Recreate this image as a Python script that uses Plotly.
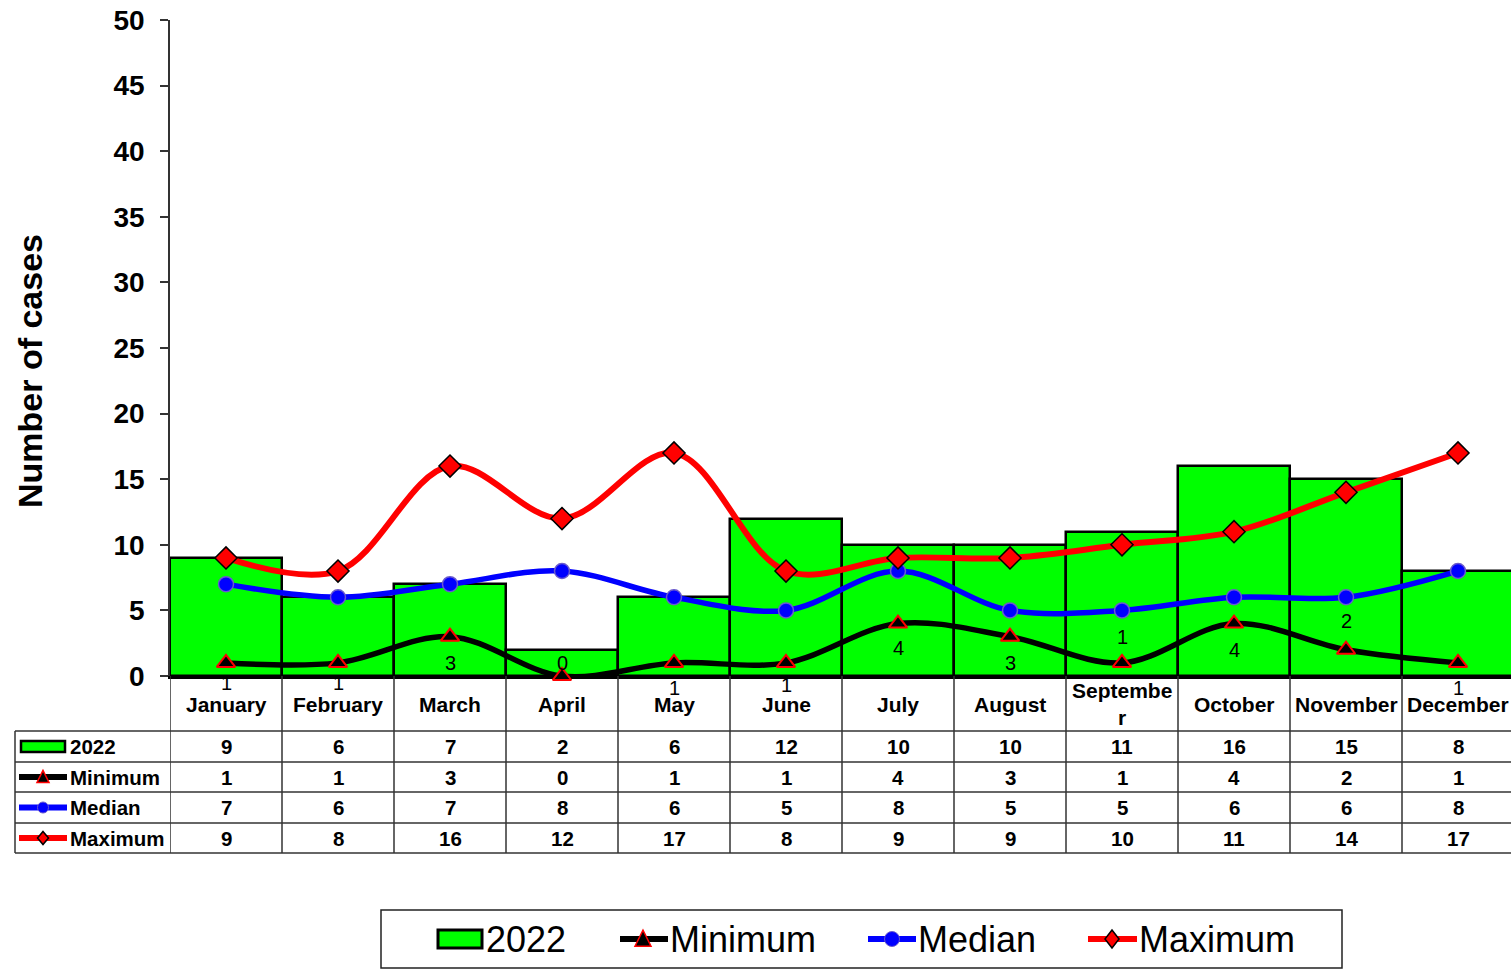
import plotly.graph_objects as go

# ---- data ----
months = ["January", "February", "March", "April", "May", "June",
          "July", "August", "September", "October", "November", "December"]
month_labels = ["January", "February", "March", "April", "May", "June",
                "July", "August", "Septembe<br>r", "October", "November", "December"]
cases_2022 = [9, 6, 7, 2, 6, 12, 10, 10, 11, 16, 15, 8]
minimum = [1, 1, 3, 0, 1, 1, 4, 3, 1, 4, 2, 1]
median = [7, 6, 7, 8, 6, 5, 8, 5, 5, 6, 6, 8]
maximum = [9, 8, 16, 12, 17, 8, 9, 9, 10, 11, 14, 17]
y_ticks = [0, 5, 10, 15, 20, 25, 30, 35, 40, 45, 50]

# vertical offset (px, positive = below the point) of each Minimum value label
min_label_offset = [20, 20, 26, -13, 25, 22, 24, 26, -26, 26, -29, 25]

FONT = "Liberation Sans, Arial, sans-serif"
NARROW = "Liberation Sans Narrow, Arial Narrow, Liberation Sans, Arial, sans-serif"
W, H = 1511, 974
L, R, T, B = 170, 1511, 20, 676          # plot area in pixels
SLOT = 112                                # width of one month column

GREEN = "#00FF00"
BLUE = "#0000FF"
RED = "#FF0000"


def px(x):
    return (x - L) / (R - L)


def py(y):
    return (B - y) / (B - T)


fig = go.Figure()

fig.add_trace(go.Bar(
    x=months, y=cases_2022, name="2022", width=1,
    marker=dict(color=GREEN, line=dict(color="black", width=2.5)),
))
fig.add_trace(go.Scatter(
    x=months, y=minimum, name="Minimum", mode="lines+markers",
    line=dict(color="black", width=5.5, shape="spline", smoothing=1),
    marker=dict(symbol="triangle-up", size=16, color="black",
                line=dict(color=RED, width=2)),
    cliponaxis=False,
))
fig.add_trace(go.Scatter(
    x=months, y=median, name="Median", mode="lines+markers",
    line=dict(color=BLUE, width=5.5, shape="spline", smoothing=1),
    marker=dict(symbol="circle", size=15, color=BLUE,
                line=dict(color="#6a5acd", width=1.5)),
    cliponaxis=False,
))
fig.add_trace(go.Scatter(
    x=months, y=maximum, name="Maximum", mode="lines+markers",
    line=dict(color=RED, width=6, shape="spline", smoothing=1),
    marker=dict(symbol="diamond", size=17, color=RED,
                line=dict(color="black", width=1.5)),
    cliponaxis=False,
))

shapes = []
annotations = []

# Minimum value labels next to their points
for m, v, off in zip(months, minimum, min_label_offset):
    annotations.append(dict(x=m, xref="x", y=v, yref="y", text=str(v),
                            showarrow=False, xanchor="center",
                            yanchor="middle", yshift=-off,
                            font=dict(family=FONT, size=20, color="black")))

# ---- data table grid ----
row_lines = [731, 762, 792, 823, 853]
row_centers = [746.5, 777, 807.5, 838]
GRID = "#333333"
for y in row_lines:
    shapes.append(dict(type="line", xref="paper", yref="paper",
                       x0=px(15), x1=px(1511), y0=py(y), y1=py(y),
                       line=dict(color=GRID, width=1.5)))
for k in range(len(months) + 1):
    shapes.append(dict(type="line", xref="x", yref="paper",
                       x0=k - 0.5, x1=k - 0.5, y0=py(B), y1=py(853),
                       line=dict(color=GRID, width=1.5)))
shapes.append(dict(type="line", xref="paper", yref="paper",
                   x0=px(15), x1=px(15), y0=py(731), y1=py(853),
                   line=dict(color=GRID, width=1.5)))

# month headings
for m, lab in zip(months, month_labels):
    annotations.append(dict(x=m, xref="x", y=py(704), yref="paper",
                            text=lab, showarrow=False, xanchor="center",
                            yanchor="middle",
                            font=dict(family=FONT, size=21, color="black",
                                      weight="bold")))

# table values
for row, yc in zip([cases_2022, minimum, median, maximum], row_centers):
    for m, v in zip(months, row):
        annotations.append(dict(x=m, xref="x", y=py(yc), yref="paper",
                                text=str(v), showarrow=False,
                                xanchor="center", yanchor="middle",
                                font=dict(family=FONT, size=20.5, color="black",
                                          weight="bold")))


# ---- legend keys (table row headers and bottom legend) ----
def key_rect(x0, x1, yc, h, lw):
    shapes.append(dict(type="rect", xref="paper", yref="paper",
                       x0=px(x0), x1=px(x1), y0=py(yc - h / 2), y1=py(yc + h / 2),
                       fillcolor=GREEN, line=dict(color="black", width=lw)))


def key_line(x0, x1, yc, color, lw):
    shapes.append(dict(type="line", xref="paper", yref="paper",
                       x0=px(x0), x1=px(x1), y0=py(yc), y1=py(yc),
                       line=dict(color=color, width=lw)))


def key_triangle(xc, yc, s):
    path = "M {},{} L {},{} L {},{} Z".format(
        px(xc), py(yc - s * 0.55), px(xc - s / 2), py(yc + s * 0.45),
        px(xc + s / 2), py(yc + s * 0.45))
    shapes.append(dict(type="path", xref="paper", yref="paper", path=path,
                       fillcolor="black", line=dict(color=RED, width=1.5)))


def key_circle(xc, yc, s):
    shapes.append(dict(type="circle", xref="paper", yref="paper",
                       x0=px(xc - s / 2), x1=px(xc + s / 2),
                       y0=py(yc - s / 2), y1=py(yc + s / 2),
                       fillcolor=BLUE, line=dict(color="#6a5acd", width=1)))


def key_diamond(xc, yc, w, h):
    path = "M {},{} L {},{} L {},{} L {},{} Z".format(
        px(xc), py(yc - h / 2), px(xc + w / 2), py(yc),
        px(xc), py(yc + h / 2), px(xc - w / 2), py(yc))
    shapes.append(dict(type="path", xref="paper", yref="paper", path=path,
                       fillcolor=RED, line=dict(color="black", width=1.5)))


def label(x, y, text, size, family, weight="normal"):
    annotations.append(dict(x=px(x), xref="paper", y=py(y), yref="paper",
                            text=text, showarrow=False, xanchor="left",
                            yanchor="middle",
                            font=dict(family=family, size=size, color="black",
                                      weight=weight)))


# row headers of the table
key_rect(21, 65, row_centers[0], 11, 2.5)
label(68, row_centers[0], "2022", 20.5, FONT, "bold")
key_line(19, 67, row_centers[1], "black", 6)
key_triangle(43, row_centers[1], 12)
label(68, row_centers[1], "Minimum", 20.5, FONT, "bold")
key_line(19, 67, row_centers[2], BLUE, 6)
key_circle(43, row_centers[2], 11)
label(68, row_centers[2], "Median", 20.5, FONT, "bold")
key_line(19, 67, row_centers[3], RED, 6)
key_diamond(43, row_centers[3], 11, 13)
label(68, row_centers[3], "Maximum", 20.5, FONT, "bold")

# bottom legend
LG = 939
shapes.append(dict(type="rect", xref="paper", yref="paper",
                   x0=px(381), x1=px(1342), y0=py(910), y1=py(968),
                   fillcolor="white", line=dict(color="#222222", width=1.5)))
key_rect(438, 482, LG, 18, 3)
label(484, LG, "2022", 36, NARROW)
key_line(620, 668, LG, "black", 6)
key_triangle(643, LG, 16)
label(668, LG, "Minimum", 36, NARROW)
key_line(868, 916, LG, BLUE, 6)
key_circle(892, LG, 15)
label(916, LG, "Median", 36, NARROW)
key_line(1088, 1137, LG, RED, 6)
key_diamond(1112, LG, 14, 18)
label(1137, LG, "Maximum", 36, NARROW)

# y-axis title
annotations.append(dict(x=px(30), xref="paper", y=py(371), yref="paper",
                        text="Number of cases", textangle=-90, showarrow=False,
                        xanchor="center", yanchor="middle",
                        font=dict(family=FONT, size=34, color="black",
                                  weight="bold")))

fig.update_layout(
    width=W, height=H,
    margin=dict(l=L, r=W - R, t=T, b=H - B, pad=0),
    paper_bgcolor="white", plot_bgcolor="white",
    showlegend=False, bargap=0,
    shapes=shapes, annotations=annotations,
    font=dict(family=FONT, color="black"),
    xaxis=dict(
        type="category", categoryorder="array", categoryarray=months,
        range=[-0.5, -0.5 + (R - L) / SLOT],
        showticklabels=False, ticks="", showgrid=False, zeroline=False,
        showline=True, linecolor="black", linewidth=3, layer="below traces",
        fixedrange=True,
    ),
    yaxis=dict(
        range=[0, 50], tickvals=y_ticks, ticktext=[str(v) for v in y_ticks],
        ticks="outside", ticklen=8, tickwidth=1.5, tickcolor="#333333",
        showline=True, linecolor="#333333", linewidth=1.5,
        showgrid=False, zeroline=False, ticklabelstandoff=10,
        tickfont=dict(family=FONT, size=28, color="black", weight="bold"),
        fixedrange=True,
    ),
)

fig.write_html("out.html", config={"displayModeBar": False})
